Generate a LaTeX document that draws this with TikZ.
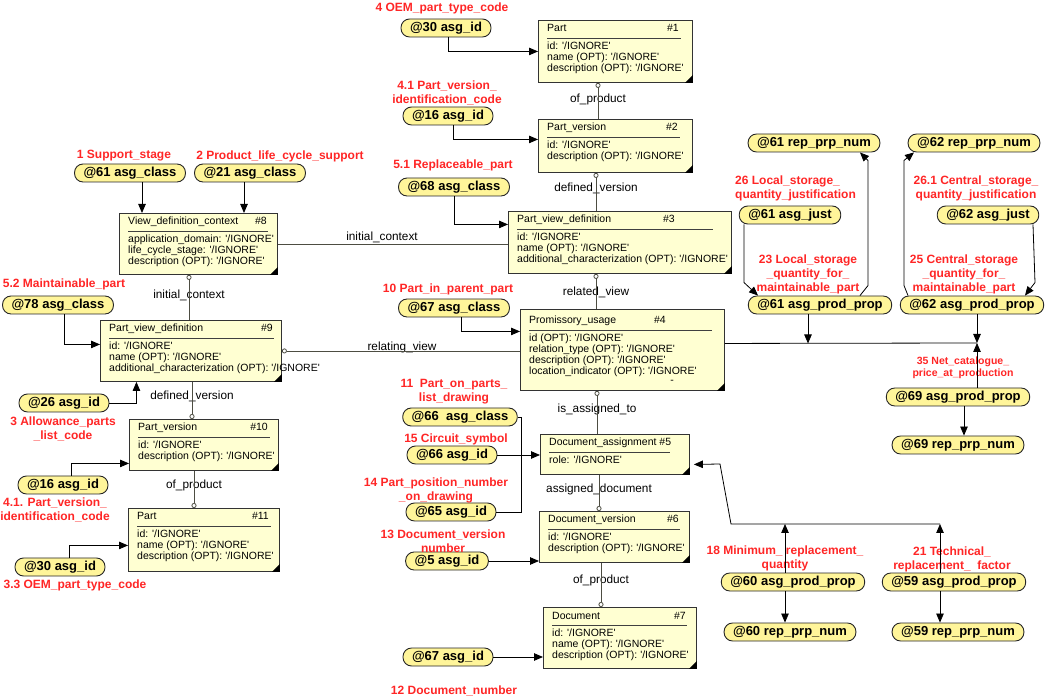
\documentclass[tikz,border=0pt]{standalone}
\usepackage{fontspec}
\setmainfont{Liberation Sans}
\usetikzlibrary{arrows.meta}
\definecolor{entfill}{HTML}{FFFFD2}
\definecolor{asgfill}{HTML}{FFF59A}
\definecolor{lblred}{HTML}{FF2626}
\definecolor{relgray}{HTML}{4D4D42}
\newcommand{\ignv}{\textquotesingle/IGNORE\textquotesingle}
\newcommand{\entity}[8]{%
\coordinate (#1o) at (#2);
\node[ebox, anchor=north west, #3] (#1) at (#1o){};
\node[etxt, anchor=base west] (#1t) at ([shift={(9,12)}]#1o){#5};
\node[etxt, anchor=base east] (#1n) at ([shift={(#7,12)}]#1o){#6};
\draw[erule] ([shift={(9,18)}]#1o) -- ([shift={(9+#4,18)}]#1o);
\node[etxt, anchor=north west, align=left] (#1a) at ([shift={(9,22)}]#1o){#8};
\fill ([xshift=-8pt]#1.south east) -- (#1.south east) -- ([yshift=8pt]#1.south east) -- cycle;
}
\begin{document}
\begin{tikzpicture}[x=1pt, y=-1pt,
ebox/.style={draw=black!80, fill=entfill, line width=0.9pt, inner sep=0pt},
etxt/.style={inner sep=0pt, font=\fontsize{10.5}{10.8}\selectfont},
erule/.style={draw=black!75, line width=0.9pt},
asg/.style={draw=black!85, fill=asgfill, line width=0.9pt, rounded corners=8.5pt, minimum height=18pt, inner xsep=9pt, inner ysep=0pt, font=\bfseries\fontsize{13}{15}\selectfont},
lbl/.style={text=lblred, inner sep=0pt, align=center, font=\bfseries\fontsize{12}{14}\selectfont},
rlbl/.style={inner sep=0pt, font=\fontsize{11.8}{13}\selectfont},
rel/.style={draw=relgray, line width=0.8pt},
relo/.style={rel, {Circle[open,length=5pt,width=5pt]}-},
rele/.style={rel, -{Circle[open,length=5pt,width=5pt]}},
conn/.style={draw=black, line width=0.8pt},
link/.style={conn, -{Triangle[length=9pt,width=7.5pt]}}]
\path[use as bounding box, fill=white] (0,0) rectangle (1045,700);
\entity{e1}{538,20}{minimum width=154, minimum height=62}{134}{Part}{\#1}{141}{id: \ignv\\name (OPT): \ignv\\description (OPT): \ignv}
\entity{e2}{538,119}{minimum width=154, minimum height=53}{133}{Part\_version}{\#2}{140}{id: \ignv\\description (OPT): \ignv}
\entity{e3}{508,211}{minimum width=223, minimum height=62}{196}{Part\_view\_definition}{\#3}{167}{id: \ignv\\name (OPT): \ignv\\additional\_characterization (OPT): \ignv}
\entity{e4}{520,312}{minimum width=204, minimum height=81, yshift=3pt}{183}{Promissory\_usage}{\#4}{146}{id (OPT): \ignv\\relation\_type (OPT): \ignv\\description (OPT): \ignv\\location\_indicator (OPT): \ignv}
\node[etxt] (e4x) at (672,382){-};
\entity{e5}{540,434}{minimum width=149, minimum height=40}{121}{Document\_assignment \#5}{}{0}{role: \ignv}
\entity{e6}{539,511}{minimum width=150, minimum height=51}{132}{Document\_version}{\#6}{140}{id: \ignv\\description (OPT): \ignv}
\entity{e7}{543,607}{minimum width=153, minimum height=61}{135}{Document}{\#7}{143}{id: \ignv\\name (OPT): \ignv\\description (OPT): \ignv}
\entity{e8}{119,213}{minimum width=158, minimum height=61}{140}{View\_definition\_context}{\#8}{148}{application\_domain: \ignv\\life\_cycle\_stage: \ignv\\description (OPT): \ignv}
\entity{e9}{100,320}{minimum width=181, minimum height=61}{165}{Part\_view\_definition}{\#9}{173}{id: \ignv\\name (OPT): \ignv\\additional\_characterization (OPT): \ignv}
\entity{e10}{129,419}{minimum width=149, minimum height=51}{132}{Part\_version}{\#10}{139}{id: \ignv\\description (OPT): \ignv}
\entity{e11}{128,508}{minimum width=151, minimum height=63}{134}{Part}{\#11}{141}{id: \ignv\\name (OPT): \ignv\\description (OPT): \ignv}
\node[rlbl] (r12) at (598,99){of\_product};
\node[rlbl] (r23) at (596,188){defined\_version};
\node[rlbl] (r34) at (596,292){related\_view};
\node[rlbl] (r45) at (597,409){is\_assigned\_to};
\node[rlbl] (r56) at (599,489){assigned\_document};
\node[rlbl] (r67) at (601,580){of\_product};
\node[rlbl] (r83) at (382,237){initial\_context};
\node[rlbl] (r89) at (189,295){initial\_context};
\node[rlbl] (r94) at (402,347){relating\_view};
\node[rlbl] (r910) at (192,396){defined\_version};
\node[rlbl] (r1011) at (194,485){of\_product};
\draw[relo] (e1.south -| r12) -- (e2.north -| r12);
\draw[relo] (e2.south -| r23) -- (e3.north -| r23);
\draw[relo] (e3.south -| r34) -- (e4.north -| r34);
\draw[relo] (e4.south -| r45) -- (e5.north -| r45);
\draw[rele] (e5.south -| r56) -- (e6.north -| r56);
\draw[rele] (e6.south -| r67) -- (e7.north -| r67);
\draw[rel] (e8.east) -- (e8.east -| e3.west);
\draw[relo] (e8.south -| r89) -- (e9.north -| r89);
\draw[relo] (e9.east) -- (e9.east -| e4.west);
\draw[rele] (e9.south -| r910) -- (e10.north -| r910);
\draw[rele] (e10.south -| r1011) -- (e11.north -| r1011);
\node[asg] (a30) at (446,28){@30 asg\_id};
\node[asg] (a16) at (448,116){@16 asg\_id};
\node[asg] (a68) at (454,187){@68 asg\_class};
\node[asg] (a67c) at (454,308){@67 asg\_class};
\node[asg] (a66c) at (460,417){@66\ \ asg\_class};
\node[asg] (a66) at (452,455){@66 asg\_id};
\node[asg] (a65) at (451,512){@65 asg\_id};
\node[asg] (a5) at (447,561){@5 asg\_id};
\node[asg] (a67) at (448,657){@67 asg\_id};
\node[asg] (a61c) at (130,173){@61 asg\_class};
\node[asg] (a21c) at (250,173){@21 asg\_class};
\node[asg] (a78c) at (58,305){@78 asg\_class};
\node[asg] (a26) at (64,403){@26 asg\_id};
\node[asg] (a16b) at (63,485){@16 asg\_id};
\node[asg] (a30b) at (60,567){@30 asg\_id};
\node[asg] (n61) at (814,143){@61 rep\_prp\_num};
\node[asg] (n62) at (974,143){@62 rep\_prp\_num};
\node[asg] (j61) at (790,215){@61 asg\_just};
\node[asg] (j62) at (988,215){@62 asg\_just};
\node[asg] (p61) at (820,305){@61 asg\_prod\_prop};
\node[asg] (p62) at (972,305){@62 asg\_prod\_prop};
\node[asg] (p69) at (958,397){@69 asg\_prod\_prop};
\node[asg] (n69) at (958,445){@69 rep\_prp\_num};
\node[asg] (p60) at (793,582){@60 asg\_prod\_prop};
\node[asg] (n60) at (790,632){@60 rep\_prp\_num};
\node[asg] (p59) at (954,582){@59 asg\_prod\_prop};
\node[asg] (n59) at (958,632){@59 rep\_prp\_num};
\node[lbl] (t4) at (442,8){4 OEM\_part\_type\_code};
\node[lbl] (t41) at (447,93){4.1 Part\_version\_\\identification\_code};
\node[lbl] (t51) at (453,165){5.1 Replaceable\_part};
\node[lbl] (t10) at (448,289){10 Part\_in\_parent\_part};
\node[lbl] (t11) at (454,392){11\ \ Part\_on\_parts\_\\list\_drawing};
\node[lbl] (t15) at (456,439){15 Circuit\_symbol};
\node[lbl] (t14) at (436,490){14 Part\_position\_number\\\_on\_drawing};
\node[lbl] (t13) at (443,541){13 Document\_version\\number};
\node[lbl] (t12) at (454,691){12 Document\_number};
\node[lbl] (t1) at (124,156){1 Support\_stage};
\node[lbl] (t2) at (280,156){2 Product\_life\_cycle\_support};
\node[lbl] (t52) at (64,284){5.2 Maintainable\_part};
\node[lbl] (t3) at (63,429){3 Allowance\_parts\\\_list\_code};
\node[lbl] (t41b) at (55,510){4.1. Part\_version\_\\identification\_code};
\node[lbl] (t33) at (75,585){3.3 OEM\_part\_type\_code};
\node[lbl, anchor=west, align=left] (t26) at (735,188){26 Local\_storage\_\\quantity\_justification};
\node[lbl] (t261) at (976,188){26.1 Central\_storage\_\\quantity\_justification};
\node[lbl] (t23) at (808,274){23 Local\_storage\\\_quantity\_for\_\\maintainable\_part};
\node[lbl] (t25) at (964,274){25 Central\_storage\\\_quantity\_for\_\\maintainable\_part};
\node[lbl, font=\bfseries\fontsize{10.5}{12}\selectfont] (t35) at (963,368){35 Net\_catalogue\_\\price\_at\_production};
\node[lbl] (t18) at (785,558){18 Minimum\_ replacement\_\\quantity};
\node[lbl] (t21) at (952,559){21 Technical\_\\replacement\_\ \ factor};
\draw[link] ([xshift=2pt]a30.south) |- (e1.west);
\draw[link] ([xshift=5pt]a16.south) |- ([yshift=6.5pt]e2.west);
\draw[link] (a68.south) |- ([yshift=18pt]e3.west);
\draw[link] ([xshift=7pt]a67c.south) |- ([yshift=18.5pt]e4.west);
\coordinate (j5) at (521,455);
\draw[conn] (a66c.east) -| (j5);
\draw[conn] (a65.east) -| (j5);
\draw[link] (a66.east) -- (a66.east -| e5.west);
\draw[link] (a5.east) -- (a5.east -| e6.west);
\draw[link] (a67.east) -- (a67.east -| e7.west);
\draw[link] ([xshift=12pt]a61c.south) -- ([xshift=12pt]a61c.south |- e8.north);
\draw[link] ([xshift=-6pt]a21c.south) -- ([xshift=-6pt]a21c.south |- e8.north);
\draw[link] ([xshift=6pt]a78c.south) |- ([yshift=6.5pt]e9.west);
\draw[link] (a26.east) -| ([xshift=-54.5pt]e9.south);
\draw[link] ([xshift=8pt]a16b.north) |- ([yshift=-18.5pt]e10.west);
\draw[link] ([xshift=9pt]a30b.north) |- ([yshift=-5.5pt]e11.west);
\draw[link] ([xshift=-46pt]j61.south) -- ([xshift=-76pt,yshift=13pt]p61.north) -- ([xshift=-62pt]p61.north);
\draw[link] ([xshift=40pt]p61.north) -- ([xshift=48pt,yshift=10pt]p61.north) -- ([xshift=54pt,yshift=-8pt]n61.south) -- ([xshift=46pt]n61.south);
\draw[link] ([xshift=-64pt]p62.north) -- ([xshift=-68pt,yshift=10pt]p62.north) -- ([xshift=-70pt,yshift=-8pt]n62.south) -- ([xshift=-60pt]n62.south);
\draw[link] ([xshift=45pt]j62.south) -- ([xshift=63pt,yshift=13pt]p62.north) -- ([xshift=53pt]p62.north);
\coordinate (h4) at ([yshift=6.5pt]e4.east);
\coordinate (hj) at (977,343);
\draw[conn] (h4) -- (hj);
\draw[link] ([xshift=-12pt]p61.south) -- ([xshift=-12pt]p61.south |- h4);
\draw[link] ([xshift=5pt]p62.south) -- (hj);
\draw[link] ([xshift=19pt]p69.north) -- (hj);
\draw[link] ([xshift=6pt]p69.south) -- ([xshift=6pt]p69.south |- n69.north);
\draw[link] ([xshift=-8pt]p60.south) -- ([xshift=-8pt]p60.south |- n60.north);
\draw[link] ([xshift=-14pt]p59.south) -- ([xshift=-14pt]p59.south |- n59.north);
\coordinate (k60) at (785,524);
\coordinate (k59) at (940,524);
\coordinate (b1) at (731,524);
\coordinate (b2) at (720,464);
\draw[link] ([xshift=-8pt]p60.north) -- (k60);
\draw[link] ([xshift=-14pt]p59.north) -- (k59);
\draw[link] (k59) -- (b1) -- (b2) -- ([xshift=4pt,yshift=-10pt]e5.east);
\end{tikzpicture}
\end{document}
